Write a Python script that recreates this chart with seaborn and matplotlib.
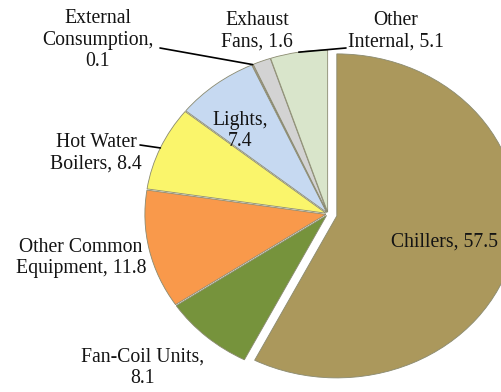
#!/usr/bin/env python3

import numpy as np
import matplotlib.pyplot as plt
import seaborn as sns

SET_DPI = 100
FIGSIZE = (5.02, 3.92)

CATEGORIES = ['Chillers', 'Fan-Coil Units', 'Other Common Equipment',
              'Hot Water Boilers', 'Lights', 'External Consumption',
              'Exhaust Fans', 'Other Internal']
SHARES = [57.5, 8.1, 11.8, 8.4, 7.4, 0.1, 1.6, 5.1]
LABELS = ['Chillers, 57.5', 'Fan-Coil Units,\n8.1', 'Other Common\nEquipment, 11.8',
          'Hot Water\nBoilers, 8.4', 'Lights,\n7.4', 'External\nConsumption,\n0.1',
          'Exhaust\nFans, 1.6', 'Other\nInternal, 5.1']
COLOURS = ['#AB985C', '#76933C', '#F9994B', '#FAF56B',
           '#C6D9F1', '#E6B9B8', '#D3D3D3', '#D9E5CB']

# layout, in pixels of the 502x392 picture
CENTER_PX = (328, 214)
RADIUS_PX = (181, 162)
LABEL_PX = [(445, 242), (143, 368), (81, 258), (96, 153),
            (240, 131), (98, 40), (257, 31), (396, 31)]
# where a leader starts (None = no leader)
LEADER_PX = [None, None, None, (140, 145), None, (160, 48), None, (346, 48)]
EXPLODE = [0.05, 0.012, 0.012, 0.012, 0.012, 0.012, 0.012, 0.012]


def px_to_data(px, py):
    return ((px - CENTER_PX[0]) / RADIUS_PX[0],
            (CENTER_PX[1] - py) / RADIUS_PX[1])


sns.set_theme(style='white')
plt.rcParams['font.family'] = ['Liberation Serif', 'DejaVu Serif']

fig = plt.figure(figsize=FIGSIZE, dpi=SET_DPI)
ax = fig.add_axes([0, 0, 1, 1])

wedges, _ = ax.pie(SHARES, colors=COLOURS, startangle=90, counterclock=False,
                   explode=EXPLODE,
                   wedgeprops=dict(edgecolor='#8a8a70', linewidth=0.6))

ax.set_aspect('auto')
x0, y0 = px_to_data(0, 392)
x1, y1 = px_to_data(502, 0)
ax.set_xlim(x0, x1)
ax.set_ylim(y0, y1)
ax.axis('off')

for i, wedge in enumerate(wedges):
    lx, ly = px_to_data(*LABEL_PX[i])
    ax.text(lx, ly, LABELS[i], ha='center', va='center', fontsize=14.2,
            linespacing=1.15, color='#141414')
    if LEADER_PX[i] is not None:
        mid = np.deg2rad((wedge.theta1 + wedge.theta2) / 2)
        cx, cy = wedge.center
        edge = (cx + wedge.r * np.cos(mid), cy + wedge.r * np.sin(mid))
        sx, sy = px_to_data(*LEADER_PX[i])
        ax.plot([sx, edge[0]], [sy, edge[1]], color='black', lw=1.2)

fig.savefig('out.png', dpi=SET_DPI)
